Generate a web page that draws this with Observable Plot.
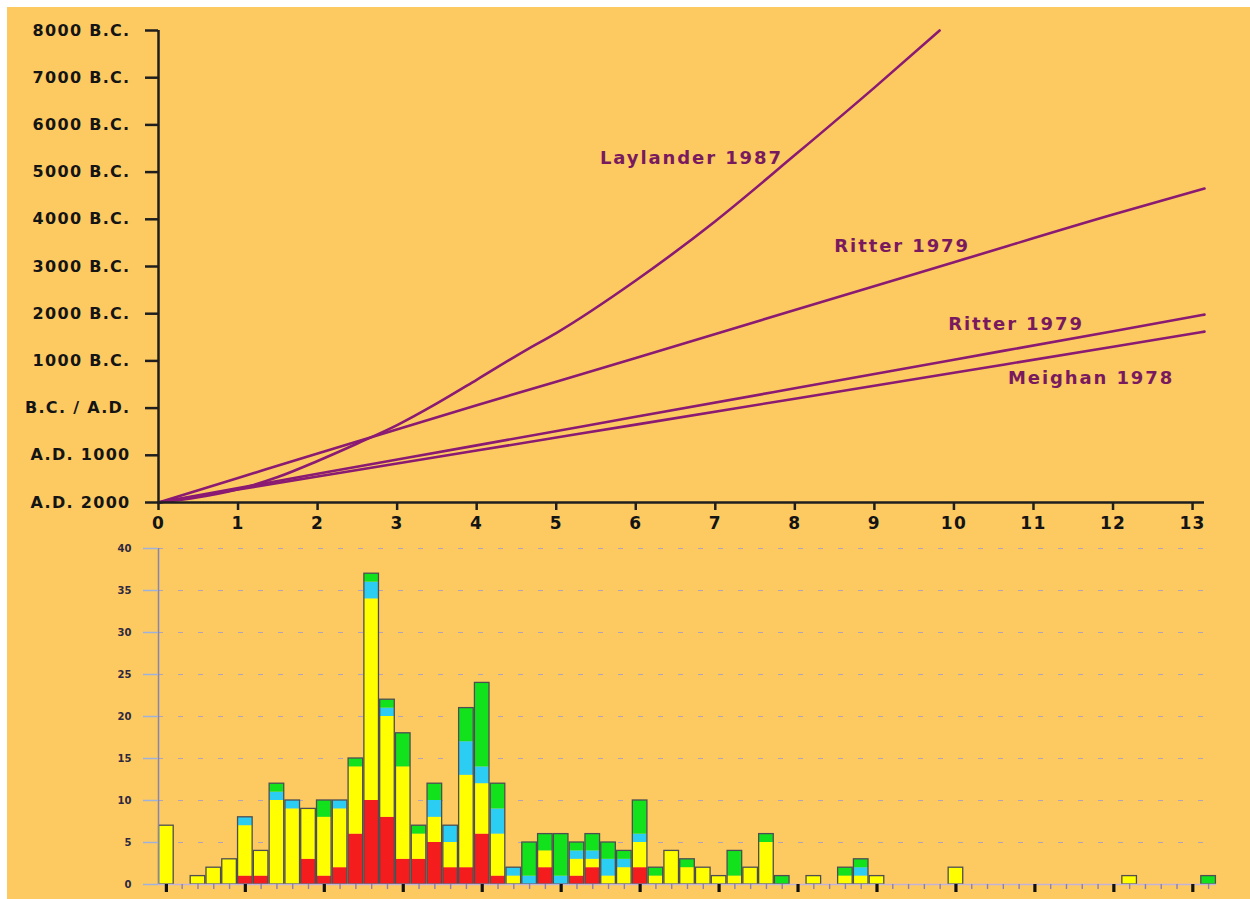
<!DOCTYPE html>
<html><head><meta charset="utf-8">
<script src="https://cdn.jsdelivr.net/npm/d3@7"></script>
<script src="https://cdn.jsdelivr.net/npm/@observablehq/plot@0.6"></script>
<style>
html,body{margin:0;padding:0;background:#fff;}
#page{position:relative;width:1250px;height:899px;overflow:hidden;background:#fff;}
#bg{position:absolute;left:7px;top:7px;width:1243px;height:892px;background:#fdca62;}
#topChart,#bottomChart{position:absolute;left:0;}
#topChart{top:0;}
#bottomChart{top:540px;}
#topChart svg text{letter-spacing:1.3px;}
#topChart svg .lbl text{letter-spacing:1.9px;}
</style></head><body>
<div id="page"><div id="bg"></div><div id="topChart"></div><div id="bottomChart"></div></div>
<script>
// ---------- top panel: hydration-rate curves ----------
const yTickValues = [0,1000,2000,3000,4000,5000,6000,7000,8000,9000,10000];
const yTickLabels = ["A.D. 2000","A.D. 1000","B.C. / A.D.","1000 B.C.","2000 B.C.","3000 B.C.","4000 B.C.","5000 B.C.","6000 B.C.","7000 B.C.","8000 B.C."];
const xTickValues = [0,1,2,3,4,5,6,7,8,9,10,11,12,13];

const laylanderX = [0,0.5,1,1.5,2,2.5,3,3.5,4,4.61,5,6,7,8,9,9.82];
const laylanderY = [0,110,280,540,880,1250,1640,2100,2600,3220,3590,4703,5960,7360,8790,10000];
const ritterAX = [0,1,2,4,6,8,10,12,13.15];
const ritterAY = [0,520,1040,2060,3060,4080,5090,6100,6650];
const ritterBX = [0,2,4,6,8,10,12,13.15];
const ritterBY = [0,610,1210,1815,2420,3025,3630,3980];
const meighanX = [0,2,4,6,8,10,12,13.15];
const meighanY = [0,550,1100,1650,2200,2750,3300,3620];
const seriesNames = ["Laylander 1987","Ritter 1979","Ritter 1979","Meighan 1978"];

// ---------- bottom panel: counts per 0.2 bin ----------
const red = [0,0,0,0,0,1,1,0,0,3, 1,2,6,10,8,3,3,5,2,2, 6,1,0,0,2,0,1,2,0,0, 2,0,0,0,0,0,0,0,0,0, 0,0,0,0,0,0,0,0,0,0, 0,0,0,0,0,0,0,0,0,0, 0,0,0,0,0,0,0];
const yellow = [7,0,1,2,3,6,3,10,9,6, 7,7,8,24,12,11,3,3,3,11, 6,5,1,0,2,0,2,1,1,2, 3,1,4,2,2,1,1,2,5,0, 0,1,0,1,1,1,0,0,0,0, 2,0,0,0,0,0,0,0,0,0, 0,1,0,0,0,0,0];
const cyan = [0,0,0,0,0,1,0,1,1,0, 0,1,0,2,1,0,0,2,2,4, 2,3,1,1,0,1,1,1,2,1, 1,0,0,0,0,0,0,0,0,0, 0,0,0,0,1,0,0,0,0,0, 0,0,0,0,0,0,0,0,0,0, 0,0,0,0,0,0,0];
const green = [0,0,0,0,0,0,0,1,0,0, 2,0,1,1,1,4,1,2,0,4, 10,3,0,4,2,5,1,2,2,1, 4,1,0,1,0,0,3,0,1,1, 0,0,0,1,1,0,0,0,0,0, 0,0,0,0,0,0,0,0,0,0, 0,0,0,0,0,0,1];
const countTicks = [0,5,10,15,20,25,30,35,40];

(function(){
// ---------- build tables ----------
const curveSets = [[laylanderX,laylanderY],[ritterAX,ritterAY],[ritterBX,ritterBY],[meighanX,meighanY]];
const rows = [];
curveSets.forEach(([xs,ys],k)=>xs.forEach((x,i)=>rows.push({k, name: seriesNames[k], x, y: ys[i]})));
const at = (k,x)=>rows.filter(d=>d.k===k && d.x===x);

const FONT = "DejaVu Sans";
const LINE = "#8a1a72";
const TXT = "#7a1a5e";
const lblOpts = {x:"x", y:"y", text:"name", fill:TXT, fontSize:18, fontWeight:"bold", fontFamily:FONT, className:"lbl"};

const topPlot = Plot.plot({
  width:1250, height:540,
  marginLeft:158, marginRight:46, marginTop:30, marginBottom:38,
  style:{background:"transparent", fontFamily:FONT, overflow:"visible"},
  x:{domain:[0,13.15]},
  y:{domain:[0,10000]},
  marks:[
    Plot.line(rows,{x:"x", y:"y", z:"k", stroke:LINE, strokeWidth:2.6, curve:"monotone-x"}),
    Plot.text(at(0,8),{...lblOpts, textAnchor:"end", dx:-12, dy:3}),
    Plot.text(at(1,10),{...lblOpts, textAnchor:"end", dx:16, dy:-16}),
    Plot.text(at(2,12),{...lblOpts, textAnchor:"middle", dx:-97, dy:-7}),
    Plot.text(at(3,12),{...lblOpts, textAnchor:"middle", dx:-22, dy:31}),
    Plot.ruleX([0],{stroke:"#1e1e1e", strokeWidth:2.5}),
    Plot.ruleY([0],{stroke:"#1e1e1e", strokeWidth:2.5}),
    Plot.axisY({ticks:yTickValues, tickFormat:d=>yTickLabels[Math.round(d/1000)], tickSize:13, tickPadding:15,
      stroke:"#1e1e1e", strokeWidth:2.5, fill:"#141414", fontSize:16, fontWeight:"bold", fontFamily:FONT, label:null}),
    Plot.axisX({ticks:xTickValues, tickFormat:d=>String(d), tickSize:8, tickPadding:6,
      stroke:"#1e1e1e", strokeWidth:2.5, fill:"#141414", fontSize:17, fontWeight:"bold", fontFamily:FONT, label:null})
  ]
});
document.getElementById("topChart").appendChild(topPlot);

// stacked segments
const layers = [["red",red,"#f41c1c"],["yellow",yellow,"#ffff00"],["cyan",cyan,"#2ccdf2"],["green",green,"#12e21c"]];
const segs = [], totals = [];
red.forEach((_,b)=>{
  let acc = 0;
  layers.forEach(([name,arr,col])=>{
    const v = arr[b];
    if (v>0){ segs.push({b, name, col, y1:acc, y2:acc+v}); acc += v; }
  });
  totals.push({b, t:acc});
});
const binIdx = red.map((_,i)=>i);

const bottomPlot = Plot.plot({
  width:1250, height:359,
  marginLeft:158, marginRight:34, marginTop:8, marginBottom:15,
  style:{background:"transparent", fontFamily:FONT, overflow:"visible"},
  x:{domain:[-0.5, red.length-0.5]},
  y:{domain:[0,40]},
  marks:[
    Plot.ruleY(countTicks.filter(d=>d>0),{stroke:"#a99ec6", strokeWidth:1.2, strokeDasharray:"5,15", strokeOpacity:0.9}),
    Plot.rect(segs,{x1:d=>d.b-0.5, x2:d=>d.b+0.5, y1:"y1", y2:"y2", fill:"col", insetLeft:0.6, insetRight:0.6}),
    Plot.rect(totals.filter(d=>d.t>0),{x1:d=>d.b-0.5, x2:d=>d.b+0.5, y1:0, y2:"t", fill:"none", stroke:"#4e4e52", strokeWidth:1.3, insetLeft:0.6, insetRight:0.6}),
    Plot.ruleX([-0.5],{stroke:"#8585b0", strokeWidth:1.5}),
    Plot.ruleY([0],{stroke:"#c2b2da", strokeWidth:1.5}),
    Plot.axisY({ticks:countTicks, tickSize:15, tickPadding:12, stroke:"#9fb2de", strokeWidth:1.5,
      fill:"#2e2840", fontSize:10, fontWeight:"bold", fontFamily:FONT, label:null}),
    Plot.axisX({ticks:binIdx, tickSize:5, tickFormat:()=>"", stroke:"#8d7fae", strokeWidth:1.4, label:null}),
    Plot.axisX({ticks:binIdx.filter(i=>i%5===0), tickSize:8, tickFormat:()=>"", stroke:"#111", strokeWidth:3.2, label:null})
  ]
});
document.getElementById("bottomChart").appendChild(bottomPlot);
})();
</script>
</body></html>
